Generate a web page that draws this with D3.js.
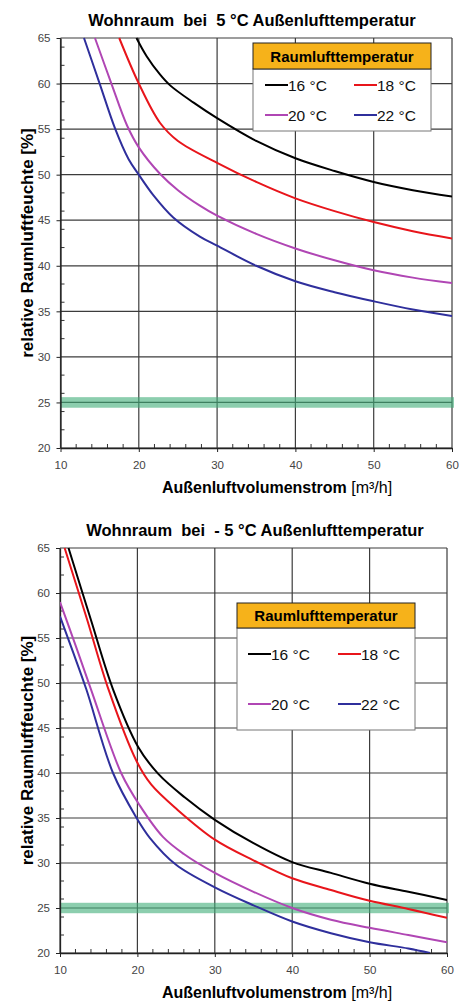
<!DOCTYPE html>
<html>
<head>
<meta charset="utf-8">
<script src="https://cdn.jsdelivr.net/npm/d3@7"></script>
<style>
  body { margin: 0; background: #fff; }
  svg text { font-family: "Liberation Sans", Arial, sans-serif; }
</style>
</head>
<body>
<div id="chart-area"></div>
<script>
// values: [Außenluftvolumenstrom m3/h, relative Feuchte %]
var top16 = [[19.7,65],[21,63.0],[22.7,61.0],[24,59.8],[27,57.9],[30,56.2],[35,53.7],[40,51.8],[45,50.4],[50,49.2],[55,48.3],[60,47.6]];
var top18 = [[17.5,65],[20,60],[22.7,55.7],[25,53.7],[30,51.3],[35,49.2],[40,47.4],[45,46.0],[50,44.8],[55,43.8],[60,43.0]];
var top20 = [[14.4,65],[16.5,60],[18.5,55.4],[20,53.0],[22.7,50.1],[25,48.3],[27.8,46.6],[30,45.5],[35,43.5],[40,41.9],[45,40.6],[50,39.5],[55,38.7],[60,38.1]];
var top22 = [[13,65],[15,60],[17,55],[18.7,51.7],[20,50],[21.9,47.7],[24.4,45.3],[27.8,43.2],[30,42.2],[35,40],[40,38.3],[45,37.1],[50,36.1],[55,35.2],[60,34.5]];

var bot16 = [[11.1,65],[14.0,57.0],[16.85,49.3],[20.1,42.9],[22.7,39.9],[26.1,37.3],[30,34.8],[35,32.2],[40,30.1],[45,28.9],[50,27.7],[55,26.8],[60,25.9]];
var bot18 = [[10.6,65],[13.45,57.2],[16.3,49.2],[19.9,41.3],[21.8,38.7],[25.2,35.9],[30,32.6],[35,30.3],[40,28.3],[45,27.0],[50,25.8],[55,24.9],[60,23.9]];
var bot20 = [[10,59],[12,54.2],[14,49.3],[17.9,40],[20.3,36.4],[23.3,32.9],[26,31.0],[30,28.9],[35,26.8],[40,25.0],[45,23.7],[50,22.8],[55,22.0],[60,21.2]];
var bot22 = [[10,57.4],[11.7,53.4],[13.4,49.3],[16.85,40],[19.9,35],[21.6,32.8],[25,29.8],[30,27.3],[35,25.3],[40,23.5],[45,22.2],[50,21.2],[55,20.5],[57.8,20]];

var legendNames = ["16 °C", "18 °C", "20 °C", "22 °C"];
var seriesColors = ["#000000", "#e8151b", "#b046b4", "#2f2f9c"];
var xTicks = [10, 20, 30, 40, 50, 60];
var yTicks = [20, 25, 30, 35, 40, 45, 50, 55, 60, 65];
var limitValue = 25;

var svg = d3.select("#chart-area").append("svg")
  .attr("width", 459).attr("height", 1002);

var charts = [
  { title: "Wohnraum  bei  5 °C Außenlufttemperatur", titleY: 26, titleX: 252,
    xr: [60.5, 452], yr: [448, 38], series: [top16, top18, top20, top22],
    legend: { x: 253, y: 43, w: 178, hh: 26, bh: 62, r1: 85, r2: 115, c1: 265, c2: 354 } },
  { title: "Wohnraum  bei  - 5 °C Außenlufttemperatur", titleY: 536, titleX: 255,
    xr: [60, 447], yr: [953, 548], series: [bot16, bot18, bot20, bot22],
    legend: { x: 237, y: 603, w: 178, hh: 25, bh: 102, r1: 654, r2: 704, c1: 248, c2: 338 } }
];

charts.forEach(function (c, ci) {
  var g = svg.append("g");
  var x = d3.scaleLinear().domain([10, 60]).range(c.xr);
  var y = d3.scaleLinear().domain([20, 65]).range(c.yr);

  g.append("text").attr("x", c.titleX).attr("y", c.titleY)
    .attr("text-anchor", "middle").attr("font-size", "16.5px").attr("font-weight", "bold")
    .style("white-space", "pre").text(c.title);

  // grid
  g.selectAll(".gx").data(xTicks).enter().append("line")
    .attr("x1", function (d) { return x(d); }).attr("x2", function (d) { return x(d); })
    .attr("y1", y(20)).attr("y2", y(65))
    .attr("stroke", "#3c3c3c").attr("stroke-width", 1.2);
  g.selectAll(".gy").data(yTicks).enter().append("line")
    .attr("x1", x(10)).attr("x2", x(60))
    .attr("y1", function (d) { return y(d); }).attr("y2", function (d) { return y(d); })
    .attr("stroke", "#3c3c3c").attr("stroke-width", 1.2);

  // green 25 % band
  g.append("rect").attr("x", x(10)).attr("width", x(60) - x(10) + 2)
    .attr("y", y(limitValue + 0.58)).attr("height", y(limitValue - 0.58) - y(limitValue + 0.58))
    .attr("fill", "#3fae78").attr("opacity", 0.6);

  // minor ticks
  var minorX = d3.range(12, 60, 2).filter(function (d) { return d % 10 !== 0; });
  g.selectAll(".mx").data(minorX).enter().append("line")
    .attr("x1", function (d) { return x(d); }).attr("x2", function (d) { return x(d); })
    .attr("y1", y(20)).attr("y2", y(20) - 4).attr("stroke", "#333").attr("stroke-width", 1);
  var minorY = d3.range(22, 65, 2).filter(function (d) { return d % 5 !== 0; });
  g.selectAll(".my").data(minorY).enter().append("line")
    .attr("x1", x(10)).attr("x2", x(10) + 4)
    .attr("y1", function (d) { return y(d); }).attr("y2", function (d) { return y(d); })
    .attr("stroke", "#333").attr("stroke-width", 1);

  // axes
  var xAxis = d3.axisBottom(x).tickValues(xTicks).tickSize(4).tickSizeOuter(0);
  var xg = g.append("g").attr("transform", "translate(0," + y(20) + ")").call(xAxis);
  var yAxis = d3.axisLeft(y).tickValues(yTicks).tickSize(4).tickSizeOuter(0);
  var yg = g.append("g").attr("transform", "translate(" + x(10) + ",0)").call(yAxis);
  [xg, yg].forEach(function (a) {
    a.select(".domain").attr("stroke", "#222").attr("stroke-width", 1.3);
    a.selectAll(".tick line").attr("stroke", "#222");
    a.selectAll(".tick text").attr("font-size", "11.5px").attr("fill", "#444")
      .attr("font-family", "Liberation Sans, Arial, sans-serif");
  });
  xg.selectAll(".tick text").attr("dy", "1.2em");
  yg.selectAll(".tick text").attr("dx", "-3px");

  // curves
  g.append("clipPath").attr("id", "clip" + ci).append("rect")
    .attr("x", x(10)).attr("y", y(65) - 1).attr("width", x(60) - x(10)).attr("height", y(20) - y(65) + 1);
  var line = d3.line().curve(d3.curveCatmullRom.alpha(0.5))
    .x(function (d) { return x(d[0]); }).y(function (d) { return y(d[1]); });
  c.series.forEach(function (s, i) {
    g.append("path").datum(s).attr("d", line)
      .attr("fill", "none").attr("stroke", seriesColors[i]).attr("stroke-width", 2)
      .attr("clip-path", "url(#clip" + ci + ")");
  });

  // axis titles
  var xt = g.append("text").attr("x", 277).attr("y", y(20) + 45)
    .attr("text-anchor", "middle").attr("font-size", "16px");
  xt.append("tspan").attr("font-weight", "bold").text("Außenluftvolumenstrom ");
  xt.append("tspan").text("[m³/h]");
  var yc = (y(20) + y(65)) / 2;
  g.append("text").attr("transform", "translate(33," + yc + ") rotate(-90)")
    .attr("text-anchor", "middle").attr("font-size", "17px").attr("font-weight", "bold")
    .text("relative Raumluftfeuchte [%]");

  // legend
  var L = c.legend;
  g.append("rect").attr("x", L.x).attr("y", L.y + L.hh).attr("width", L.w).attr("height", L.bh)
    .attr("fill", "#fff").attr("stroke", "#777").attr("stroke-width", 1);
  g.append("rect").attr("x", L.x).attr("y", L.y).attr("width", L.w).attr("height", L.hh)
    .attr("fill", "#f6b21a").attr("stroke", "#222").attr("stroke-width", 1);
  g.append("text").attr("x", L.x + L.w / 2).attr("y", L.y + L.hh / 2 + 5.5)
    .attr("text-anchor", "middle").attr("font-size", "15px").attr("font-weight", "bold")
    .text("Raumlufttemperatur");
  legendNames.forEach(function (n, i) {
    var lx = i % 2 === 0 ? L.c1 : L.c2;
    var ly = i < 2 ? L.r1 : L.r2;
    g.append("line").attr("x1", lx).attr("x2", lx + 23).attr("y1", ly).attr("y2", ly)
      .attr("stroke", seriesColors[i]).attr("stroke-width", 2);
    g.append("text").attr("x", lx + 23).attr("y", ly + 5.5).attr("font-size", "15.5px")
      .attr("fill", "#111").text(n);
  });
});
</script>
</body>
</html>
